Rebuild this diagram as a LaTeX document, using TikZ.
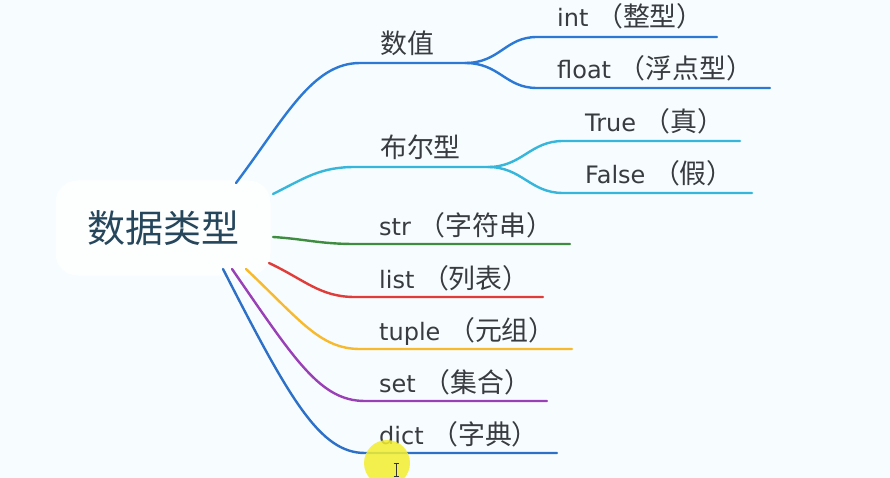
\documentclass[tikz,border=0pt]{standalone}
\usepackage{fontspec}
\setmainfont{DejaVu Sans}
\newfontfamily\cjk{Noto Sans CJK SC}[Scale=1.12]
\newfontfamily\cjkroot{Noto Sans CJK SC}
\newcommand\zh[1]{{\cjk #1}}
\definecolor{bg}{HTML}{F7FCFE}
\definecolor{txt}{HTML}{383B40}
\definecolor{roottxt}{HTML}{26465C}
\definecolor{cnum}{HTML}{2B78D5}
\definecolor{cbool}{HTML}{35B6DA}
\definecolor{cstr}{HTML}{3E8C40}
\definecolor{clist}{HTML}{E03C3A}
\definecolor{ctuple}{HTML}{F7BA2E}
\definecolor{cset}{HTML}{9A40B6}
\definecolor{cdict}{HTML}{2D70C8}
\definecolor{hl}{HTML}{F3EF30}
\tikzset{
  branch/.style={line width=2.4pt, line cap=round},
  lbl/.style={anchor=base west, inner sep=0pt, text=txt, font=\fontsize{24}{26}\selectfont},
  rootbox/.style={fill=white, fill opacity=0.8, text opacity=1, rounded corners=22pt, minimum width=215pt, minimum height=95pt, text=roottxt, font=\fontsize{38}{40}\selectfont\cjkroot},
}
\begin{document}
\begin{tikzpicture}[x=1pt,y=-1pt]
\fill[bg] (0,0) rectangle (890,478);
\useasboundingbox (0,0) rectangle (890,478);

\node[rootbox] (root) at (163,228) {数据类型};

% start points near root
\coordinate (sNum) at (236,183);
\coordinate (sBool) at (273,194);
\coordinate (sStr) at (273,237);
\coordinate (sList) at (269,263);
\coordinate (sTuple) at (246,269);
\coordinate (sSet) at (232,269);
\coordinate (sDict) at (223,269);

% level 1 bends / ends
\coordinate (bNum) at (360,63);   \coordinate (fNum) at (465,63);
\coordinate (bBool) at (355,167); \coordinate (fBool) at (488,167);
\coordinate (bStr) at (355,244);  \coordinate (eStr) at (570,244);
\coordinate (bList) at (355,297); \coordinate (eList) at (543,297);
\coordinate (bTuple) at (360,349);\coordinate (eTuple) at (572,349);
\coordinate (bSet) at (365,401);  \coordinate (eSet) at (547,401);
\coordinate (bDict) at (365,453); \coordinate (eDict) at (557,453);

% level 2
\coordinate (bInt) at (537,37);    \coordinate (eInt) at (717,37);
\coordinate (bFloat) at (537,88);  \coordinate (eFloat) at (770,88);
\coordinate (bTrue) at (563,141);  \coordinate (eTrue) at (740,141);
\coordinate (bFalse) at (563,193); \coordinate (eFalse) at (752,193);

% labels
\node[lbl] (num) at (380,54) {\zh{数值}};
\node[lbl] (bool) at (380,158) {\zh{布尔型}};
\node[lbl] (str) at (379,235) {str \zh{（字符串）}};
\node[lbl] (list) at (379,288) {list \zh{（列表）}};
\node[lbl] (tuple) at (379,340) {tuple \zh{（元组）}};
\node[lbl] (set) at (379,392) {set \zh{（集合）}};
\node[lbl] (dict) at (379,444) {dict \zh{（字典）}};
\node[lbl] (int) at (557,27) {int \zh{（整型）}};
\node[lbl] (float) at (557,79) {float \zh{（浮点型）}};
\node[lbl] (true) at (585,132) {True \zh{（真）}};
\node[lbl] (false) at (585,184) {False \zh{（假）}};

% connectors
\draw[branch,cnum] (sNum) .. controls (285,118) and (312,63) .. (bNum) -- (fNum);
\draw[branch,cnum] (fNum) .. controls (500,63) and (505,37) .. (bInt) -- (eInt);
\draw[branch,cnum] (fNum) .. controls (500,63) and (505,88) .. (bFloat) -- (eFloat);

\draw[branch,cbool] (sBool) .. controls (305,178) and (320,167) .. (bBool) -- (fBool);
\draw[branch,cbool] (fBool) .. controls (522,167) and (530,141) .. (bTrue) -- (eTrue);
\draw[branch,cbool] (fBool) .. controls (522,167) and (530,193) .. (bFalse) -- (eFalse);

\draw[branch,cstr] (sStr) .. controls (305,239) and (320,244) .. (bStr) -- (eStr);
\draw[branch,clist] (sList) .. controls (305,280) and (320,297) .. (bList) -- (eList);
\draw[branch,ctuple] (sTuple) .. controls (300,320) and (320,349) .. (bTuple) -- (eTuple);
\draw[branch,cset] (sSet) .. controls (295,360) and (320,401) .. (bSet) -- (eSet);
\draw[branch,cdict] (sDict) .. controls (290,400) and (320,453) .. (bDict) -- (eDict);

% cursor highlight
\fill[hl,opacity=0.85] (387,463) circle (23);
\draw[line width=1pt, black!80] (396,463) -- (396,476) (393.5,463) -- (398.5,463) (393.5,476) -- (398.5,476);
\end{tikzpicture}
\end{document}
